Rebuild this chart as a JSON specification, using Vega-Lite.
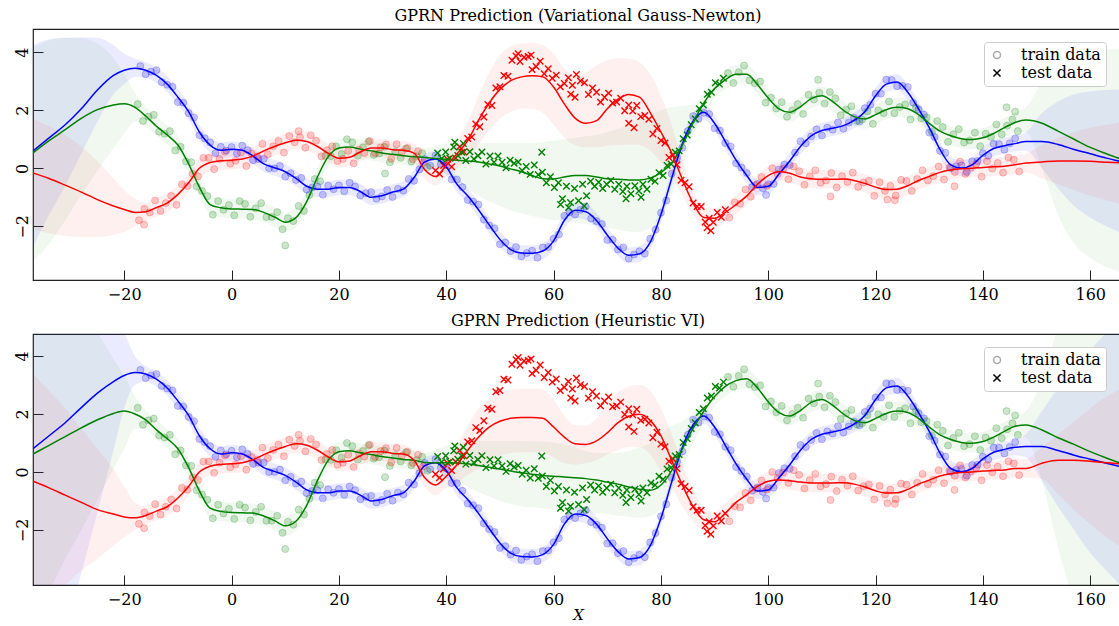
{
"$schema":"https://vega.github.io/schema/vega-lite/v6.json",
"background":"white",
"padding":{"left":13,"top":7,"right":0,"bottom":0},
"spacing":9,
"config":{
 "view":{"stroke":"#222222","strokeWidth":1.2},
 "title":{"font":"DejaVu Serif","fontSize":16,"fontWeight":"normal","color":"#000000","offset":5,"anchor":"middle"},
 "axis":{"grid":false,"domain":false,"ticks":true,"tickSize":-10,"tickColor":"#222222","tickWidth":1,"labelFont":"DejaVu Serif","labelFontSize":16,"labelColor":"#000000","titleFont":"DejaVu Serif","titleColor":"#000000"}
},
"resolve":{"scale":{"shape":"independent"},"legend":{"shape":"independent"}},
"datasets":{
"vgn":[
{"x":-37,"b":0.60,"bl":-2.7,"bh":4.25,"g":0.53,"gl":-3.2,"gh":4.15,"r":-0.16,"rl":-2.1,"rh":1.7},
{"x":-34,"b":1.05,"bl":-1.6,"bh":4.45,"g":0.95,"gl":-2.6,"gh":4.4,"r":-0.35,"rl":-2.25,"rh":1.45},
{"x":-31,"b":1.50,"bl":-0.6,"bh":4.5,"g":1.33,"gl":-1.8,"gh":4.5,"r":-0.58,"rl":-2.33,"rh":1.15},
{"x":-28,"b":2.05,"bl":0.5,"bh":4.52,"g":1.72,"gl":-0.9,"gh":4.48,"r":-0.82,"rl":-2.38,"rh":0.75},
{"x":-25,"b":2.70,"bl":1.6,"bh":4.5,"g":2.02,"gl":-0.1,"gh":4.3,"r":-1.08,"rl":-2.38,"rh":0.25},
{"x":-22,"b":3.20,"bl":2.55,"bh":4.25,"g":2.18,"gl":0.7,"gh":3.8,"r":-1.30,"rl":-2.3,"rh":-0.35},
{"x":-20,"b":3.38,"bl":2.9,"bh":3.95,"g":2.22,"gl":1.2,"gh":3.25,"r":-1.42,"rl":-2.2,"rh":-0.75},
{"x":-18,"b":3.45,"bl":3.15,"bh":3.78,"g":2.10,"gl":1.6,"gh":2.6,"r":-1.52,"rl":-2.0,"rh":-1.05},
{"x":-16,"b":3.38,"bl":3.11,"bh":3.65,"g":1.80,"gl":1.47,"gh":2.13,"r":-1.50,"rl":-1.82,"rh":-1.18},
{"x":-14,"b":3.20,"bl":2.93,"bh":3.47,"g":1.45,"gl":1.12,"gh":1.78,"r":-1.35,"rl":-1.67,"rh":-1.03},
{"x":-12,"b":2.90,"bl":2.63,"bh":3.17,"g":1.15,"gl":0.82,"gh":1.48,"r":-1.20,"rl":-1.52,"rh":-0.88},
{"x":-10,"b":2.45,"bl":2.18,"bh":2.72,"g":0.80,"gl":0.47,"gh":1.13,"r":-0.90,"rl":-1.22,"rh":-0.58},
{"x":-8,"b":1.95,"bl":1.68,"bh":2.22,"g":0.15,"gl":-0.18,"gh":0.48,"r":-0.50,"rl":-0.82,"rh":-0.18},
{"x":-6,"b":1.25,"bl":0.98,"bh":1.52,"g":-0.65,"gl":-0.98,"gh":-0.32,"r":0.00,"rl":-0.32,"rh":0.32},
{"x":-4,"b":0.80,"bl":0.53,"bh":1.07,"g":-1.25,"gl":-1.58,"gh":-0.92,"r":0.20,"rl":-0.12,"rh":0.52},
{"x":-2,"b":0.62,"bl":0.35,"bh":0.89,"g":-1.36,"gl":-1.69,"gh":-1.03,"r":0.26,"rl":-0.06,"rh":0.58},
{"x":0,"b":0.66,"bl":0.39,"bh":0.93,"g":-1.40,"gl":-1.73,"gh":-1.07,"r":0.28,"rl":-0.04,"rh":0.60},
{"x":2,"b":0.62,"bl":0.35,"bh":0.89,"g":-1.41,"gl":-1.74,"gh":-1.08,"r":0.32,"rl":0.00,"rh":0.64},
{"x":4,"b":0.42,"bl":0.15,"bh":0.69,"g":-1.42,"gl":-1.75,"gh":-1.09,"r":0.42,"rl":0.10,"rh":0.74},
{"x":6,"b":0.15,"bl":-0.12,"bh":0.42,"g":-1.52,"gl":-1.85,"gh":-1.19,"r":0.60,"rl":0.28,"rh":0.92},
{"x":8,"b":0.02,"bl":-0.25,"bh":0.29,"g":-1.68,"gl":-2.01,"gh":-1.35,"r":0.75,"rl":0.43,"rh":1.07},
{"x":10,"b":-0.12,"bl":-0.39,"bh":0.15,"g":-1.86,"gl":-2.19,"gh":-1.53,"r":0.88,"rl":0.56,"rh":1.20},
{"x":12,"b":-0.35,"bl":-0.62,"bh":-0.08,"g":-1.70,"gl":-2.03,"gh":-1.37,"r":0.97,"rl":0.65,"rh":1.29},
{"x":14,"b":-0.62,"bl":-0.89,"bh":-0.35,"g":-1.15,"gl":-1.48,"gh":-0.82,"r":0.92,"rl":0.60,"rh":1.24},
{"x":16,"b":-0.72,"bl":-0.99,"bh":-0.45,"g":-0.30,"gl":-0.63,"gh":0.03,"r":0.75,"rl":0.43,"rh":1.07},
{"x":18,"b":-0.72,"bl":-0.99,"bh":-0.45,"g":0.40,"gl":0.07,"gh":0.73,"r":0.52,"rl":0.20,"rh":0.84},
{"x":20,"b":-0.66,"bl":-0.93,"bh":-0.39,"g":0.70,"gl":0.37,"gh":1.03,"r":0.35,"rl":0.03,"rh":0.67},
{"x":22,"b":-0.66,"bl":-0.93,"bh":-0.39,"g":0.73,"gl":0.40,"gh":1.06,"r":0.38,"rl":0.06,"rh":0.70},
{"x":24,"b":-0.80,"bl":-1.07,"bh":-0.53,"g":0.66,"gl":0.33,"gh":0.99,"r":0.56,"rl":0.24,"rh":0.88},
{"x":26,"b":-1.00,"bl":-1.27,"bh":-0.73,"g":0.60,"gl":0.27,"gh":0.93,"r":0.70,"rl":0.38,"rh":1.02},
{"x":28,"b":-0.95,"bl":-1.22,"bh":-0.68,"g":0.53,"gl":0.20,"gh":0.86,"r":0.70,"rl":0.38,"rh":1.02},
{"x":30,"b":-0.82,"bl":-1.09,"bh":-0.55,"g":0.48,"gl":0.15,"gh":0.81,"r":0.64,"rl":0.32,"rh":0.96},
{"x":32,"b":-0.72,"bl":-0.99,"bh":-0.45,"g":0.43,"gl":0.10,"gh":0.76,"r":0.62,"rl":0.30,"rh":0.94},
{"x":34,"b":-0.32,"bl":-0.59,"bh":-0.05,"g":0.40,"gl":0.07,"gh":0.73,"r":0.52,"rl":0.20,"rh":0.84},
{"x":36,"b":0.22,"bl":-0.05,"bh":0.49,"g":0.37,"gl":0.04,"gh":0.70,"r":-0.05,"rl":-0.37,"rh":0.27},
{"x":38,"b":0.32,"bl":0.05,"bh":0.59,"g":0.34,"gl":0.0,"gh":0.75,"r":-0.28,"rl":-0.6,"rh":0.1},
{"x":40,"b":0.05,"bl":-0.22,"bh":0.32,"g":0.31,"gl":-0.2,"gh":0.85,"r":0.10,"rl":-0.3,"rh":0.5},
{"x":42,"b":-0.55,"bl":-0.82,"bh":-0.28,"g":0.28,"gl":-0.45,"gh":0.87,"r":0.50,"rl":0.0,"rh":1.0},
{"x":44,"b":-0.95,"bl":-1.22,"bh":-0.68,"g":0.25,"gl":-0.7,"gh":0.87,"r":0.95,"rl":0.3,"rh":1.6},
{"x":46,"b":-1.43,"bl":-1.70,"bh":-1.16,"g":0.22,"gl":-0.95,"gh":0.87,"r":1.65,"rl":0.8,"rh":2.5},
{"x":48,"b":-1.95,"bl":-2.22,"bh":-1.68,"g":0.15,"gl":-1.15,"gh":0.87,"r":2.25,"rl":1.3,"rh":3.3},
{"x":50,"b":-2.45,"bl":-2.72,"bh":-2.18,"g":0.08,"gl":-1.3,"gh":0.87,"r":2.72,"rl":1.7,"rh":3.9},
{"x":52,"b":-2.80,"bl":-3.07,"bh":-2.53,"g":-0.02,"gl":-1.45,"gh":0.87,"r":3.02,"rl":1.95,"rh":4.2},
{"x":54,"b":-2.92,"bl":-3.19,"bh":-2.65,"g":-0.12,"gl":-1.55,"gh":0.87,"r":3.15,"rl":2.05,"rh":4.3},
{"x":56,"b":-2.93,"bl":-3.20,"bh":-2.66,"g":-0.25,"gl":-1.65,"gh":0.87,"r":3.19,"rl":2.05,"rh":4.32},
{"x":58,"b":-2.85,"bl":-3.12,"bh":-2.58,"g":-0.36,"gl":-1.72,"gh":0.9,"r":3.15,"rl":1.9,"rh":4.25},
{"x":60,"b":-2.50,"bl":-2.77,"bh":-2.23,"g":-0.37,"gl":-1.78,"gh":0.95,"r":2.80,"rl":1.5,"rh":3.95},
{"x":62,"b":-1.80,"bl":-2.07,"bh":-1.53,"g":-0.30,"gl":-1.82,"gh":1.0,"r":2.22,"rl":1.05,"rh":3.45},
{"x":64,"b":-1.45,"bl":-1.72,"bh":-1.18,"g":-0.25,"gl":-1.87,"gh":1.05,"r":1.73,"rl":0.8,"rh":3.2},
{"x":66,"b":-1.50,"bl":-1.77,"bh":-1.23,"g":-0.25,"gl":-1.92,"gh":1.1,"r":1.55,"rl":0.72,"rh":3.3},
{"x":68,"b":-1.80,"bl":-2.07,"bh":-1.53,"g":-0.30,"gl":-1.97,"gh":1.15,"r":1.64,"rl":0.72,"rh":3.55},
{"x":70,"b":-2.30,"bl":-2.57,"bh":-2.03,"g":-0.36,"gl":-2.05,"gh":1.25,"r":2.05,"rl":0.78,"rh":3.72},
{"x":72,"b":-2.75,"bl":-3.02,"bh":-2.48,"g":-0.38,"gl":-2.12,"gh":1.35,"r":2.38,"rl":0.8,"rh":3.8},
{"x":74,"b":-3.00,"bl":-3.27,"bh":-2.73,"g":-0.40,"gl":-2.18,"gh":1.5,"r":2.54,"rl":0.82,"rh":3.78},
{"x":76,"b":-2.95,"bl":-3.22,"bh":-2.68,"g":-0.40,"gl":-2.2,"gh":1.65,"r":2.45,"rl":0.8,"rh":3.65},
{"x":78,"b":-2.55,"bl":-2.82,"bh":-2.28,"g":-0.34,"gl":-2.05,"gh":1.85,"r":1.92,"rl":0.6,"rh":3.25},
{"x":80,"b":-1.60,"bl":-1.87,"bh":-1.33,"g":-0.15,"gl":-1.65,"gh":2.0,"r":1.25,"rl":0.2,"rh":2.5},
{"x":82,"b":-0.35,"bl":-0.62,"bh":-0.08,"g":0.18,"gl":-0.95,"gh":2.1,"r":0.53,"rl":-0.3,"rh":1.5},
{"x":84,"b":0.85,"bl":0.58,"bh":1.12,"g":0.80,"gl":0.1,"gh":2.15,"r":-0.38,"rl":-0.95,"rh":0.3},
{"x":86,"b":1.62,"bl":1.35,"bh":1.89,"g":1.58,"gl":1.15,"gh":2.2,"r":-1.20,"rl":-1.6,"rh":-0.75},
{"x":88,"b":1.93,"bl":1.66,"bh":2.20,"g":2.25,"gl":1.85,"gh":2.6,"r":-1.70,"rl":-2.05,"rh":-1.33},
{"x":90,"b":1.55,"bl":1.28,"bh":1.82,"g":2.75,"gl":2.42,"gh":3.08,"r":-1.72,"rl":-2.05,"rh":-1.38},
{"x":92,"b":0.92,"bl":0.65,"bh":1.19,"g":3.05,"gl":2.72,"gh":3.38,"r":-1.52,"rl":-1.84,"rh":-1.20},
{"x":94,"b":0.28,"bl":0.01,"bh":0.55,"g":3.24,"gl":2.91,"gh":3.57,"r":-1.25,"rl":-1.57,"rh":-0.93},
{"x":96,"b":-0.25,"bl":-0.52,"bh":0.02,"g":3.24,"gl":2.91,"gh":3.57,"r":-0.95,"rl":-1.27,"rh":-0.63},
{"x":98,"b":-0.66,"bl":-0.93,"bh":-0.39,"g":2.88,"gl":2.55,"gh":3.21,"r":-0.55,"rl":-0.87,"rh":-0.23},
{"x":100,"b":-0.62,"bl":-0.89,"bh":-0.35,"g":2.42,"gl":2.09,"gh":2.75,"r":-0.25,"rl":-0.57,"rh":0.07},
{"x":102,"b":-0.20,"bl":-0.47,"bh":0.07,"g":2.05,"gl":1.72,"gh":2.38,"r":-0.12,"rl":-0.44,"rh":0.20},
{"x":104,"b":0.25,"bl":-0.02,"bh":0.52,"g":1.93,"gl":1.60,"gh":2.26,"r":-0.17,"rl":-0.49,"rh":0.15},
{"x":106,"b":0.75,"bl":0.48,"bh":1.02,"g":2.12,"gl":1.79,"gh":2.45,"r":-0.30,"rl":-0.62,"rh":0.02},
{"x":108,"b":1.12,"bl":0.85,"bh":1.39,"g":2.40,"gl":2.07,"gh":2.73,"r":-0.36,"rl":-0.68,"rh":-0.04},
{"x":110,"b":1.30,"bl":1.03,"bh":1.57,"g":2.50,"gl":2.17,"gh":2.83,"r":-0.38,"rl":-0.70,"rh":-0.06},
{"x":112,"b":1.38,"bl":1.11,"bh":1.65,"g":2.30,"gl":1.97,"gh":2.63,"r":-0.38,"rl":-0.70,"rh":-0.06},
{"x":114,"b":1.47,"bl":1.20,"bh":1.74,"g":2.00,"gl":1.67,"gh":2.33,"r":-0.37,"rl":-0.69,"rh":-0.05},
{"x":116,"b":1.65,"bl":1.38,"bh":1.92,"g":1.78,"gl":1.45,"gh":2.11,"r":-0.42,"rl":-0.74,"rh":-0.10},
{"x":118,"b":1.95,"bl":1.68,"bh":2.22,"g":1.70,"gl":1.37,"gh":2.03,"r":-0.52,"rl":-0.84,"rh":-0.20},
{"x":120,"b":2.50,"bl":2.23,"bh":2.77,"g":1.85,"gl":1.52,"gh":2.18,"r":-0.65,"rl":-0.97,"rh":-0.33},
{"x":122,"b":2.90,"bl":2.63,"bh":3.17,"g":2.02,"gl":1.69,"gh":2.35,"r":-0.73,"rl":-1.05,"rh":-0.41},
{"x":124,"b":2.97,"bl":2.70,"bh":3.24,"g":2.10,"gl":1.77,"gh":2.43,"r":-0.72,"rl":-1.04,"rh":-0.40},
{"x":126,"b":2.62,"bl":2.35,"bh":2.89,"g":2.05,"gl":1.72,"gh":2.38,"r":-0.60,"rl":-0.92,"rh":-0.28},
{"x":128,"b":2.05,"bl":1.78,"bh":2.32,"g":1.85,"gl":1.52,"gh":2.18,"r":-0.42,"rl":-0.74,"rh":-0.10},
{"x":130,"b":1.40,"bl":1.13,"bh":1.67,"g":1.55,"gl":1.22,"gh":1.88,"r":-0.28,"rl":-0.60,"rh":0.04},
{"x":132,"b":0.65,"bl":0.38,"bh":0.92,"g":1.28,"gl":0.95,"gh":1.61,"r":-0.14,"rl":-0.46,"rh":0.18},
{"x":134,"b":0.12,"bl":-0.15,"bh":0.39,"g":1.12,"gl":0.79,"gh":1.45,"r":-0.06,"rl":-0.38,"rh":0.26},
{"x":136,"b":0.01,"bl":-0.26,"bh":0.28,"g":1.02,"gl":0.69,"gh":1.35,"r":-0.02,"rl":-0.34,"rh":0.30},
{"x":138,"b":0.12,"bl":-0.15,"bh":0.39,"g":0.99,"gl":0.66,"gh":1.32,"r":0.00,"rl":-0.32,"rh":0.32},
{"x":140,"b":0.45,"bl":0.18,"bh":0.72,"g":1.05,"gl":0.72,"gh":1.38,"r":0.03,"rl":-0.29,"rh":0.35},
{"x":142,"b":0.68,"bl":0.41,"bh":0.95,"g":1.20,"gl":0.87,"gh":1.53,"r":0.05,"rl":-0.27,"rh":0.37},
{"x":144,"b":0.78,"bl":0.51,"bh":1.05,"g":1.40,"gl":1.07,"gh":1.73,"r":0.07,"rl":-0.25,"rh":0.39},
{"x":146,"b":0.85,"bl":0.58,"bh":1.12,"g":1.58,"gl":1.25,"gh":1.91,"r":0.12,"rl":-0.20,"rh":0.44},
{"x":148,"b":0.92,"bl":0.6,"bh":1.25,"g":1.66,"gl":1.25,"gh":2.1,"r":0.18,"rl":-0.15,"rh":0.5},
{"x":151,"b":0.92,"bl":0.0,"bh":1.9,"g":1.55,"gl":0.0,"gh":3.0,"r":0.22,"rl":-0.35,"rh":0.8},
{"x":154,"b":0.82,"bl":-0.7,"bh":2.3,"g":1.28,"gl":-1.6,"gh":3.7,"r":0.25,"rl":-0.55,"rh":1.05},
{"x":157,"b":0.65,"bl":-1.3,"bh":2.55,"g":1.00,"gl":-2.6,"gh":3.95,"r":0.25,"rl":-0.75,"rh":1.25},
{"x":160,"b":0.50,"bl":-1.7,"bh":2.65,"g":0.72,"gl":-3.1,"gh":4.05,"r":0.24,"rl":-0.95,"rh":1.4},
{"x":163,"b":0.35,"bl":-2.0,"bh":2.7,"g":0.50,"gl":-3.4,"gh":4.1,"r":0.21,"rl":-1.1,"rh":1.5},
{"x":166,"b":0.22,"bl":-2.25,"bh":2.72,"g":0.30,"gl":-3.6,"gh":4.1,"r":0.18,"rl":-1.25,"rh":1.6}
],
"hvi":[
{"x":-37,"b":0.80,"bl":-9.8,"bh":8,"g":0.62,"gl":-5.1,"gh":9,"r":-0.32,"rl":-5.0,"rh":3.4},
{"x":-34,"b":1.25,"bl":-7.7,"bh":8,"g":0.92,"gl":-4.1,"gh":8,"r":-0.55,"rl":-4.4,"rh":2.8},
{"x":-31,"b":1.70,"bl":-5.6,"bh":7.5,"g":1.22,"gl":-3.0,"gh":7,"r":-0.80,"rl":-3.9,"rh":2.2},
{"x":-28,"b":2.22,"bl":-3.5,"bh":7.0,"g":1.52,"gl":-2.0,"gh":6.0,"r":-1.05,"rl":-3.4,"rh":1.5},
{"x":-25,"b":2.72,"bl":-1.4,"bh":6.3,"g":1.80,"gl":-0.95,"gh":4.85,"r":-1.30,"rl":-3.0,"rh":0.8},
{"x":-22,"b":3.12,"bl":0.75,"bh":5.5,"g":2.02,"gl":0.1,"gh":3.9,"r":-1.45,"rl":-2.55,"rh":0.1},
{"x":-20,"b":3.33,"bl":2.2,"bh":4.8,"g":2.10,"gl":0.8,"gh":3.3,"r":-1.55,"rl":-2.25,"rh":-0.5},
{"x":-18,"b":3.43,"bl":3.0,"bh":4.0,"g":2.00,"gl":1.5,"gh":2.6,"r":-1.58,"rl":-2.0,"rh":-1.05},
{"x":-16,"b":3.38,"bl":3.11,"bh":3.65,"g":1.80,"gl":1.47,"gh":2.13,"r":-1.50,"rl":-1.82,"rh":-1.18},
{"x":-14,"b":3.20,"bl":2.93,"bh":3.47,"g":1.45,"gl":1.12,"gh":1.78,"r":-1.35,"rl":-1.67,"rh":-1.03},
{"x":-12,"b":2.90,"bl":2.63,"bh":3.17,"g":1.15,"gl":0.82,"gh":1.48,"r":-1.20,"rl":-1.52,"rh":-0.88},
{"x":-10,"b":2.45,"bl":2.18,"bh":2.72,"g":0.80,"gl":0.47,"gh":1.13,"r":-0.90,"rl":-1.22,"rh":-0.58},
{"x":-8,"b":1.95,"bl":1.68,"bh":2.22,"g":0.15,"gl":-0.18,"gh":0.48,"r":-0.50,"rl":-0.82,"rh":-0.18},
{"x":-6,"b":1.25,"bl":0.98,"bh":1.52,"g":-0.65,"gl":-0.98,"gh":-0.32,"r":0.00,"rl":-0.32,"rh":0.32},
{"x":-4,"b":0.80,"bl":0.53,"bh":1.07,"g":-1.25,"gl":-1.58,"gh":-0.92,"r":0.20,"rl":-0.12,"rh":0.52},
{"x":-2,"b":0.62,"bl":0.35,"bh":0.89,"g":-1.36,"gl":-1.69,"gh":-1.03,"r":0.26,"rl":-0.06,"rh":0.58},
{"x":0,"b":0.66,"bl":0.39,"bh":0.93,"g":-1.40,"gl":-1.73,"gh":-1.07,"r":0.28,"rl":-0.04,"rh":0.60},
{"x":2,"b":0.62,"bl":0.35,"bh":0.89,"g":-1.41,"gl":-1.74,"gh":-1.08,"r":0.32,"rl":0.00,"rh":0.64},
{"x":4,"b":0.42,"bl":0.15,"bh":0.69,"g":-1.42,"gl":-1.75,"gh":-1.09,"r":0.42,"rl":0.10,"rh":0.74},
{"x":6,"b":0.15,"bl":-0.12,"bh":0.42,"g":-1.52,"gl":-1.85,"gh":-1.19,"r":0.60,"rl":0.28,"rh":0.92},
{"x":8,"b":0.02,"bl":-0.25,"bh":0.29,"g":-1.68,"gl":-2.01,"gh":-1.35,"r":0.75,"rl":0.43,"rh":1.07},
{"x":10,"b":-0.12,"bl":-0.39,"bh":0.15,"g":-1.86,"gl":-2.19,"gh":-1.53,"r":0.88,"rl":0.56,"rh":1.20},
{"x":12,"b":-0.35,"bl":-0.62,"bh":-0.08,"g":-1.70,"gl":-2.03,"gh":-1.37,"r":0.97,"rl":0.65,"rh":1.29},
{"x":14,"b":-0.62,"bl":-0.89,"bh":-0.35,"g":-1.15,"gl":-1.48,"gh":-0.82,"r":0.92,"rl":0.60,"rh":1.24},
{"x":16,"b":-0.72,"bl":-0.99,"bh":-0.45,"g":-0.30,"gl":-0.63,"gh":0.03,"r":0.75,"rl":0.43,"rh":1.07},
{"x":18,"b":-0.72,"bl":-0.99,"bh":-0.45,"g":0.40,"gl":0.07,"gh":0.73,"r":0.52,"rl":0.20,"rh":0.84},
{"x":20,"b":-0.66,"bl":-0.93,"bh":-0.39,"g":0.70,"gl":0.37,"gh":1.03,"r":0.35,"rl":0.03,"rh":0.67},
{"x":22,"b":-0.66,"bl":-0.93,"bh":-0.39,"g":0.73,"gl":0.40,"gh":1.06,"r":0.38,"rl":0.06,"rh":0.70},
{"x":24,"b":-0.80,"bl":-1.07,"bh":-0.53,"g":0.66,"gl":0.33,"gh":0.99,"r":0.56,"rl":0.24,"rh":0.88},
{"x":26,"b":-1.00,"bl":-1.27,"bh":-0.73,"g":0.60,"gl":0.27,"gh":0.93,"r":0.70,"rl":0.38,"rh":1.02},
{"x":28,"b":-0.95,"bl":-1.22,"bh":-0.68,"g":0.53,"gl":0.20,"gh":0.86,"r":0.70,"rl":0.38,"rh":1.02},
{"x":30,"b":-0.82,"bl":-1.09,"bh":-0.55,"g":0.48,"gl":0.15,"gh":0.81,"r":0.64,"rl":0.32,"rh":0.96},
{"x":32,"b":-0.72,"bl":-0.99,"bh":-0.45,"g":0.43,"gl":0.10,"gh":0.76,"r":0.62,"rl":0.30,"rh":0.94},
{"x":34,"b":-0.32,"bl":-0.59,"bh":-0.05,"g":0.40,"gl":0.07,"gh":0.73,"r":0.40,"rl":0.08,"rh":0.72},
{"x":36,"b":0.22,"bl":-0.05,"bh":0.49,"g":0.33,"gl":0.0,"gh":0.66,"r":-0.20,"rl":-0.52,"rh":0.12},
{"x":38,"b":0.32,"bl":0.05,"bh":0.59,"g":0.32,"gl":-0.05,"gh":0.75,"r":-0.45,"rl":-0.8,"rh":-0.1},
{"x":40,"b":0.05,"bl":-0.22,"bh":0.32,"g":0.32,"gl":-0.2,"gh":0.9,"r":-0.15,"rl":-0.55,"rh":0.3},
{"x":42,"b":-0.55,"bl":-0.82,"bh":-0.28,"g":0.31,"gl":-0.35,"gh":1.0,"r":0.25,"rl":-0.4,"rh":0.9},
{"x":44,"b":-0.95,"bl":-1.22,"bh":-0.68,"g":0.28,"gl":-0.5,"gh":1.05,"r":0.75,"rl":-0.1,"rh":1.6},
{"x":46,"b":-1.43,"bl":-1.70,"bh":-1.16,"g":0.22,"gl":-0.7,"gh":1.08,"r":1.20,"rl":0.1,"rh":2.2},
{"x":48,"b":-1.95,"bl":-2.22,"bh":-1.68,"g":0.16,"gl":-0.85,"gh":1.08,"r":1.55,"rl":0.3,"rh":2.5},
{"x":50,"b":-2.45,"bl":-2.72,"bh":-2.18,"g":0.10,"gl":-1.0,"gh":1.08,"r":1.75,"rl":0.55,"rh":2.75},
{"x":52,"b":-2.80,"bl":-3.07,"bh":-2.53,"g":0.03,"gl":-1.1,"gh":1.08,"r":1.85,"rl":0.65,"rh":2.85},
{"x":54,"b":-2.92,"bl":-3.19,"bh":-2.65,"g":-0.03,"gl":-1.18,"gh":1.07,"r":1.88,"rl":0.68,"rh":2.88},
{"x":56,"b":-2.93,"bl":-3.20,"bh":-2.66,"g":-0.08,"gl":-1.22,"gh":1.06,"r":1.88,"rl":0.68,"rh":2.88},
{"x":58,"b":-2.85,"bl":-3.12,"bh":-2.58,"g":-0.12,"gl":-1.26,"gh":1.05,"r":1.85,"rl":0.68,"rh":2.85},
{"x":60,"b":-2.50,"bl":-2.77,"bh":-2.23,"g":-0.15,"gl":-1.3,"gh":1.02,"r":1.55,"rl":0.5,"rh":2.5},
{"x":62,"b":-1.80,"bl":-2.07,"bh":-1.53,"g":-0.17,"gl":-1.35,"gh":0.95,"r":1.20,"rl":0.3,"rh":1.95},
{"x":64,"b":-1.45,"bl":-1.72,"bh":-1.18,"g":-0.20,"gl":-1.38,"gh":0.85,"r":0.97,"rl":0.25,"rh":1.62},
{"x":66,"b":-1.50,"bl":-1.77,"bh":-1.23,"g":-0.23,"gl":-1.4,"gh":0.72,"r":0.95,"rl":0.3,"rh":1.6},
{"x":68,"b":-1.80,"bl":-2.07,"bh":-1.53,"g":-0.28,"gl":-1.42,"gh":0.66,"r":1.07,"rl":0.4,"rh":1.85},
{"x":70,"b":-2.30,"bl":-2.57,"bh":-2.03,"g":-0.35,"gl":-1.45,"gh":0.65,"r":1.35,"rl":0.6,"rh":2.35},
{"x":72,"b":-2.75,"bl":-3.02,"bh":-2.48,"g":-0.42,"gl":-1.5,"gh":0.66,"r":1.70,"rl":0.75,"rh":2.75},
{"x":74,"b":-3.00,"bl":-3.27,"bh":-2.73,"g":-0.52,"gl":-1.55,"gh":0.72,"r":1.92,"rl":0.85,"rh":2.95},
{"x":76,"b":-2.95,"bl":-3.22,"bh":-2.68,"g":-0.60,"gl":-1.58,"gh":0.85,"r":1.99,"rl":0.85,"rh":3.0},
{"x":78,"b":-2.55,"bl":-2.82,"bh":-2.28,"g":-0.63,"gl":-1.52,"gh":1.0,"r":1.78,"rl":0.6,"rh":2.8},
{"x":80,"b":-1.60,"bl":-1.87,"bh":-1.33,"g":-0.45,"gl":-1.3,"gh":1.3,"r":1.25,"rl":0.05,"rh":2.2},
{"x":82,"b":-0.35,"bl":-0.62,"bh":-0.08,"g":0.05,"gl":-0.7,"gh":1.6,"r":0.40,"rl":-0.5,"rh":1.3},
{"x":84,"b":0.85,"bl":0.58,"bh":1.12,"g":0.80,"gl":0.1,"gh":1.75,"r":-0.45,"rl":-1.2,"rh":0.3},
{"x":86,"b":1.62,"bl":1.35,"bh":1.89,"g":1.50,"gl":1.0,"gh":2.05,"r":-1.20,"rl":-1.7,"rh":-0.6},
{"x":88,"b":1.93,"bl":1.66,"bh":2.20,"g":2.10,"gl":1.7,"gh":2.5,"r":-1.65,"rl":-2.0,"rh":-1.25},
{"x":90,"b":1.55,"bl":1.28,"bh":1.82,"g":2.60,"gl":2.25,"gh":2.95,"r":-1.72,"rl":-2.05,"rh":-1.38},
{"x":92,"b":0.92,"bl":0.65,"bh":1.19,"g":2.95,"gl":2.62,"gh":3.28,"r":-1.42,"rl":-1.74,"rh":-1.10},
{"x":94,"b":0.28,"bl":0.01,"bh":0.55,"g":3.15,"gl":2.82,"gh":3.48,"r":-1.05,"rl":-1.37,"rh":-0.73},
{"x":96,"b":-0.25,"bl":-0.52,"bh":0.02,"g":3.22,"gl":2.89,"gh":3.55,"r":-0.78,"rl":-1.10,"rh":-0.46},
{"x":98,"b":-0.66,"bl":-0.93,"bh":-0.39,"g":2.90,"gl":2.57,"gh":3.23,"r":-0.50,"rl":-0.82,"rh":-0.18},
{"x":100,"b":-0.62,"bl":-0.89,"bh":-0.35,"g":2.42,"gl":2.09,"gh":2.75,"r":-0.32,"rl":-0.64,"rh":0.0},
{"x":102,"b":-0.20,"bl":-0.47,"bh":0.07,"g":2.05,"gl":1.72,"gh":2.38,"r":-0.28,"rl":-0.60,"rh":0.04},
{"x":104,"b":0.25,"bl":-0.02,"bh":0.52,"g":1.93,"gl":1.60,"gh":2.26,"r":-0.30,"rl":-0.62,"rh":0.02},
{"x":106,"b":0.75,"bl":0.48,"bh":1.02,"g":2.12,"gl":1.79,"gh":2.45,"r":-0.35,"rl":-0.67,"rh":-0.03},
{"x":108,"b":1.12,"bl":0.85,"bh":1.39,"g":2.40,"gl":2.07,"gh":2.73,"r":-0.38,"rl":-0.70,"rh":-0.06},
{"x":110,"b":1.30,"bl":1.03,"bh":1.57,"g":2.50,"gl":2.17,"gh":2.83,"r":-0.38,"rl":-0.70,"rh":-0.06},
{"x":112,"b":1.38,"bl":1.11,"bh":1.65,"g":2.30,"gl":1.97,"gh":2.63,"r":-0.38,"rl":-0.70,"rh":-0.06},
{"x":114,"b":1.47,"bl":1.20,"bh":1.74,"g":2.00,"gl":1.67,"gh":2.33,"r":-0.37,"rl":-0.69,"rh":-0.05},
{"x":116,"b":1.65,"bl":1.38,"bh":1.92,"g":1.78,"gl":1.45,"gh":2.11,"r":-0.42,"rl":-0.74,"rh":-0.10},
{"x":118,"b":1.95,"bl":1.68,"bh":2.22,"g":1.70,"gl":1.37,"gh":2.03,"r":-0.52,"rl":-0.84,"rh":-0.20},
{"x":120,"b":2.50,"bl":2.23,"bh":2.77,"g":1.85,"gl":1.52,"gh":2.18,"r":-0.65,"rl":-0.97,"rh":-0.33},
{"x":122,"b":2.90,"bl":2.63,"bh":3.17,"g":2.02,"gl":1.69,"gh":2.35,"r":-0.73,"rl":-1.05,"rh":-0.41},
{"x":124,"b":2.97,"bl":2.70,"bh":3.24,"g":2.10,"gl":1.77,"gh":2.43,"r":-0.72,"rl":-1.04,"rh":-0.40},
{"x":126,"b":2.62,"bl":2.35,"bh":2.89,"g":2.05,"gl":1.72,"gh":2.38,"r":-0.60,"rl":-0.92,"rh":-0.28},
{"x":128,"b":2.05,"bl":1.78,"bh":2.32,"g":1.85,"gl":1.52,"gh":2.18,"r":-0.42,"rl":-0.74,"rh":-0.10},
{"x":130,"b":1.40,"bl":1.13,"bh":1.67,"g":1.55,"gl":1.22,"gh":1.88,"r":-0.28,"rl":-0.60,"rh":0.04},
{"x":132,"b":0.65,"bl":0.38,"bh":0.92,"g":1.28,"gl":0.95,"gh":1.61,"r":-0.14,"rl":-0.46,"rh":0.18},
{"x":134,"b":0.12,"bl":-0.15,"bh":0.39,"g":1.12,"gl":0.79,"gh":1.45,"r":-0.06,"rl":-0.38,"rh":0.26},
{"x":136,"b":0.01,"bl":-0.26,"bh":0.28,"g":1.02,"gl":0.69,"gh":1.35,"r":-0.02,"rl":-0.34,"rh":0.30},
{"x":138,"b":0.12,"bl":-0.15,"bh":0.39,"g":0.99,"gl":0.66,"gh":1.32,"r":0.00,"rl":-0.32,"rh":0.32},
{"x":140,"b":0.45,"bl":0.18,"bh":0.72,"g":1.05,"gl":0.72,"gh":1.38,"r":0.03,"rl":-0.29,"rh":0.35},
{"x":142,"b":0.68,"bl":0.41,"bh":0.95,"g":1.20,"gl":0.87,"gh":1.53,"r":0.05,"rl":-0.27,"rh":0.37},
{"x":144,"b":0.78,"bl":0.51,"bh":1.05,"g":1.40,"gl":1.07,"gh":1.73,"r":0.07,"rl":-0.25,"rh":0.39},
{"x":146,"b":0.85,"bl":0.58,"bh":1.12,"g":1.58,"gl":1.25,"gh":1.91,"r":0.12,"rl":-0.20,"rh":0.44},
{"x":148,"b":0.88,"bl":0.5,"bh":1.3,"g":1.62,"gl":1.2,"gh":2.1,"r":0.12,"rl":-0.2,"rh":0.45},
{"x":151,"b":0.88,"bl":-0.3,"bh":2.1,"g":1.45,"gl":-0.3,"gh":3.2,"r":0.30,"rl":-0.25,"rh":0.85},
{"x":154,"b":0.74,"bl":-1.2,"bh":2.9,"g":1.18,"gl":-2.6,"gh":5.0,"r":0.40,"rl":-0.75,"rh":1.3},
{"x":157,"b":0.58,"bl":-2.0,"bh":3.5,"g":0.95,"gl":-4.5,"gh":6.5,"r":0.40,"rl":-1.3,"rh":1.75},
{"x":160,"b":0.44,"bl":-2.8,"bh":4.2,"g":0.70,"gl":-6,"gh":7.5,"r":0.37,"rl":-1.8,"rh":2.2},
{"x":163,"b":0.30,"bl":-3.4,"bh":4.8,"g":0.48,"gl":-7,"gh":8.5,"r":0.32,"rl":-2.25,"rh":2.6},
{"x":166,"b":0.17,"bl":-4.0,"bh":5.3,"g":0.28,"gl":-8,"gh":9.5,"r":0.27,"rl":-2.6,"rh":2.9}
],
"train":[
{"s":"b","x":-17,"y":3.52},{"s":"b","x":-16,"y":3.24},{"s":"b","x":-15,"y":3.33},{"s":"b","x":-14,"y":3.38},{"s":"b","x":-13,"y":2.97},{"s":"b","x":-12,"y":2.88},{"s":"b","x":-11,"y":2.81},{"s":"b","x":-10,"y":2.28},{"s":"b","x":-9,"y":2.26},{"s":"b","x":-8,"y":1.90},{"s":"b","x":-7,"y":1.75},{"s":"b","x":-6,"y":1.14},{"s":"b","x":-5,"y":1.03},{"s":"b","x":-4,"y":0.89},{"s":"b","x":-3,"y":0.52},{"s":"b","x":-2,"y":0.74},{"s":"b","x":-1,"y":0.61},{"s":"b","x":0,"y":0.73},{"s":"b","x":1,"y":0.51},{"s":"b","x":2,"y":0.78},{"s":"b","x":3,"y":0.62},{"s":"b","x":4,"y":0.28},{"s":"b","x":5,"y":0.32},{"s":"b","x":6,"y":0.33},{"s":"b","x":7,"y":0.00},{"s":"b","x":8,"y":0.00},{"s":"b","x":9,"y":0.08},{"s":"b","x":10,"y":-0.29},{"s":"b","x":11,"y":-0.17},{"s":"b","x":12,"y":-0.40},{"s":"b","x":13,"y":-0.33},{"s":"b","x":14,"y":-0.73},{"s":"b","x":15,"y":-0.66},{"s":"b","x":16,"y":-0.63},{"s":"b","x":17,"y":-0.91},{"s":"b","x":18,"y":-0.60},{"s":"b","x":19,"y":-0.72},{"s":"b","x":20,"y":-0.59},{"s":"b","x":21,"y":-0.79},{"s":"b","x":22,"y":-0.50},{"s":"b","x":23,"y":-0.63},{"s":"b","x":24,"y":-0.94},{"s":"b","x":25,"y":-0.86},{"s":"b","x":26,"y":-0.82},{"s":"b","x":27,"y":-1.05},{"s":"b","x":28,"y":-0.97},{"s":"b","x":29,"y":-0.75},{"s":"b","x":30,"y":-0.99},{"s":"b","x":31,"y":-0.71},{"s":"b","x":32,"y":-0.77},{"s":"b","x":33,"y":-0.37},{"s":"b","x":34,"y":-0.43},{"s":"b","x":35,"y":-0.04},{"s":"b","x":36,"y":0.31},{"s":"b","x":37,"y":0.09},{"s":"b","x":38,"y":0.44},{"s":"b","x":39,"y":0.15},{"s":"b","x":40,"y":0.12},{"s":"b","x":41,"y":-0.38},{"s":"b","x":42,"y":-0.39},{"s":"b","x":43,"y":-0.65},{"s":"b","x":44,"y":-1.09},{"s":"b","x":45,"y":-1.15},{"s":"b","x":46,"y":-1.25},{"s":"b","x":47,"y":-1.77},{"s":"b","x":48,"y":-1.97},{"s":"b","x":49,"y":-2.07},{"s":"b","x":50,"y":-2.62},{"s":"b","x":51,"y":-2.56},{"s":"b","x":52,"y":-2.85},{"s":"b","x":53,"y":-2.71},{"s":"b","x":54,"y":-3.03},{"s":"b","x":55,"y":-2.92},{"s":"b","x":56,"y":-2.84},{"s":"b","x":57,"y":-3.08},{"s":"b","x":58,"y":-2.73},{"s":"b","x":59,"y":-2.71},{"s":"b","x":60,"y":-2.43},{"s":"b","x":61,"y":-2.28},{"s":"b","x":62,"y":-1.64},{"s":"b","x":63,"y":-1.52},{"s":"b","x":64,"y":-1.59},{"s":"b","x":65,"y":-1.43},{"s":"b","x":66,"y":-1.32},{"s":"b","x":67,"y":-1.73},{"s":"b","x":68,"y":-1.82},{"s":"b","x":69,"y":-1.92},{"s":"b","x":70,"y":-2.47},{"s":"b","x":71,"y":-2.46},{"s":"b","x":72,"y":-2.80},{"s":"b","x":73,"y":-2.73},{"s":"b","x":74,"y":-3.11},{"s":"b","x":75,"y":-2.97},{"s":"b","x":76,"y":-2.86},{"s":"b","x":77,"y":-2.94},{"s":"b","x":78,"y":-2.43},{"s":"b","x":79,"y":-2.11},{"s":"b","x":80,"y":-1.53},{"s":"b","x":81,"y":-1.11},{"s":"b","x":82,"y":-0.19},{"s":"b","x":83,"y":0.35},{"s":"b","x":84,"y":0.71},{"s":"b","x":85,"y":1.28},{"s":"b","x":86,"y":1.80},{"s":"b","x":87,"y":1.70},{"s":"b","x":88,"y":1.91},{"s":"b","x":89,"y":1.87},{"s":"b","x":90,"y":1.38},{"s":"b","x":91,"y":1.30},{"s":"b","x":92,"y":0.87},{"s":"b","x":93,"y":0.75},{"s":"b","x":94,"y":0.17},{"s":"b","x":95,"y":0.03},{"s":"b","x":96,"y":-0.16},{"s":"b","x":97,"y":-0.65},{"s":"b","x":98,"y":-0.54},{"s":"b","x":99,"y":-0.69},{"s":"b","x":100,"y":-0.55},{"s":"b","x":101,"y":-0.54},{"s":"b","x":102,"y":-0.04},{"s":"b","x":103,"y":0.13},{"s":"b","x":104,"y":0.11},{"s":"b","x":105,"y":0.54},{"s":"b","x":106,"y":0.93},{"s":"b","x":107,"y":0.86},{"s":"b","x":108,"y":1.10},{"s":"b","x":109,"y":1.34},{"s":"b","x":110,"y":1.13},{"s":"b","x":111,"y":1.40},{"s":"b","x":112,"y":1.33},{"s":"b","x":113,"y":1.58},{"s":"b","x":114,"y":1.36},{"s":"b","x":115,"y":1.57},{"s":"b","x":116,"y":1.74},{"s":"b","x":117,"y":1.61},{"s":"b","x":118,"y":2.07},{"s":"b","x":119,"y":2.19},{"s":"b","x":120,"y":2.57},{"s":"b","x":121,"y":2.57},{"s":"b","x":122,"y":3.06},{"s":"b","x":123,"y":3.04},{"s":"b","x":124,"y":2.83},{"s":"b","x":125,"y":2.84},{"s":"b","x":126,"y":2.80},{"s":"b","x":127,"y":2.26},{"s":"b","x":128,"y":2.03},{"s":"b","x":129,"y":1.85},{"s":"b","x":130,"y":1.23},{"s":"b","x":131,"y":1.08},{"s":"b","x":132,"y":0.60},{"s":"b","x":133,"y":0.53},{"s":"b","x":134,"y":0.01},{"s":"b","x":135,"y":0.07},{"s":"b","x":136,"y":0.10},{"s":"b","x":137,"y":-0.13},{"s":"b","x":138,"y":0.24},{"s":"b","x":139,"y":0.25},{"s":"b","x":140,"y":0.52},{"s":"b","x":141,"y":0.43},{"s":"b","x":142,"y":0.84},{"s":"b","x":143,"y":0.83},{"s":"b","x":144,"y":0.64},{"s":"b","x":145,"y":0.86},{"s":"b","x":146,"y":1.03},{"s":"b","x":99.6,"y":-0.92},
{"s":"g","x":-17.5,"y":2.21},{"s":"g","x":-16.5,"y":1.63},{"s":"g","x":-15.5,"y":1.78},{"s":"g","x":-14.5,"y":1.84},{"s":"g","x":-13.5,"y":1.26},{"s":"g","x":-12.5,"y":1.19},{"s":"g","x":-11.5,"y":1.28},{"s":"g","x":-10.5,"y":0.61},{"s":"g","x":-9.5,"y":0.74},{"s":"g","x":-8.5,"y":0.23},{"s":"g","x":-7.5,"y":0.21},{"s":"g","x":-6.5,"y":-0.63},{"s":"g","x":-5.5,"y":-0.78},{"s":"g","x":-4.5,"y":-0.96},{"s":"g","x":-3.5,"y":-1.60},{"s":"g","x":-2.5,"y":-1.13},{"s":"g","x":-1.5,"y":-1.43},{"s":"g","x":-0.5,"y":-1.27},{"s":"g","x":0.5,"y":-1.62},{"s":"g","x":1.5,"y":-1.13},{"s":"g","x":2.5,"y":-1.23},{"s":"g","x":3.5,"y":-1.67},{"s":"g","x":4.5,"y":-1.38},{"s":"g","x":5.5,"y":-1.20},{"s":"g","x":6.5,"y":-1.68},{"s":"g","x":7.5,"y":-1.68},{"s":"g","x":8.5,"y":-1.51},{"s":"g","x":9.5,"y":-2.10},{"s":"g","x":10.5,"y":-1.72},{"s":"g","x":11.5,"y":-1.82},{"s":"g","x":12.5,"y":-1.30},{"s":"g","x":13.5,"y":-1.47},{"s":"g","x":14.5,"y":-0.92},{"s":"g","x":15.5,"y":-0.37},{"s":"g","x":16.5,"y":-0.45},{"s":"g","x":17.5,"y":0.43},{"s":"g","x":18.5,"y":0.42},{"s":"g","x":19.5,"y":0.75},{"s":"g","x":20.5,"y":0.49},{"s":"g","x":21.5,"y":1.00},{"s":"g","x":22.5,"y":0.89},{"s":"g","x":23.5,"y":0.43},{"s":"g","x":24.5,"y":0.72},{"s":"g","x":25.5,"y":0.92},{"s":"g","x":26.5,"y":0.46},{"s":"g","x":27.5,"y":0.51},{"s":"g","x":28.5,"y":0.74},{"s":"g","x":29.5,"y":0.21},{"s":"g","x":30.5,"y":0.57},{"s":"g","x":31.5,"y":0.36},{"s":"g","x":32.5,"y":0.68},{"s":"g","x":33.5,"y":0.23},{"s":"g","x":34.5,"y":0.41},{"s":"g","x":35.5,"y":0.52},{"s":"g","x":36.5,"y":0.04},{"s":"g","x":10,"y":-2.66},{"s":"g","x":28.6,"y":-0.18},
{"s":"g","x":92.5,"y":3.28},{"s":"g","x":93.5,"y":2.94},{"s":"g","x":94.5,"y":3.31},{"s":"g","x":95.5,"y":3.54},{"s":"g","x":96.5,"y":3.03},{"s":"g","x":97.5,"y":2.93},{"s":"g","x":98.5,"y":2.99},{"s":"g","x":99.5,"y":2.26},{"s":"g","x":100.5,"y":2.43},{"s":"g","x":101.5,"y":2.06},{"s":"g","x":102.5,"y":2.28},{"s":"g","x":103.5,"y":1.78},{"s":"g","x":104.5,"y":2.00},{"s":"g","x":105.5,"y":2.21},{"s":"g","x":106.5,"y":1.87},{"s":"g","x":107.5,"y":2.53},{"s":"g","x":108.5,"y":2.37},{"s":"g","x":109.5,"y":2.60},{"s":"g","x":110.5,"y":2.23},{"s":"g","x":111.5,"y":2.63},{"s":"g","x":112.5,"y":2.41},{"s":"g","x":113.5,"y":1.83},{"s":"g","x":114.5,"y":2.02},{"s":"g","x":115.5,"y":2.14},{"s":"g","x":116.5,"y":1.64},{"s":"g","x":117.5,"y":1.68},{"s":"g","x":118.5,"y":1.96},{"s":"g","x":119.5,"y":1.53},{"s":"g","x":120.5,"y":1.99},{"s":"g","x":121.5,"y":1.90},{"s":"g","x":122.5,"y":2.30},{"s":"g","x":123.5,"y":1.90},{"s":"g","x":124.5,"y":2.11},{"s":"g","x":125.5,"y":2.20},{"s":"g","x":126.5,"y":1.68},{"s":"g","x":127.5,"y":2.10},{"s":"g","x":128.5,"y":1.72},{"s":"g","x":129.5,"y":1.75},{"s":"g","x":130.5,"y":1.26},{"s":"g","x":131.5,"y":1.63},{"s":"g","x":132.5,"y":1.42},{"s":"g","x":133.5,"y":0.91},{"s":"g","x":134.5,"y":1.17},{"s":"g","x":135.5,"y":1.35},{"s":"g","x":136.5,"y":0.89},{"s":"g","x":137.5,"y":0.96},{"s":"g","x":138.5,"y":1.23},{"s":"g","x":139.5,"y":0.76},{"s":"g","x":140.5,"y":1.19},{"s":"g","x":141.5,"y":1.08},{"s":"g","x":142.5,"y":1.51},{"s":"g","x":143.5,"y":1.17},{"s":"g","x":144.5,"y":1.47},{"s":"g","x":145.5,"y":1.68},{"s":"g","x":146.5,"y":1.28},{"s":"g","x":109.3,"y":3.05},{"s":"g","x":144.4,"y":2.1},{"s":"g","x":146,"y":1.95},
{"s":"r","x":-17.25,"y":-1.79},{"s":"r","x":-16.25,"y":-1.40},{"s":"r","x":-15.25,"y":-1.52},{"s":"r","x":-14.25,"y":-1.11},{"s":"r","x":-13.25,"y":-1.47},{"s":"r","x":-12.25,"y":-1.20},{"s":"r","x":-11.25,"y":-0.95},{"s":"r","x":-10.25,"y":-1.26},{"s":"r","x":-9.25,"y":-0.55},{"s":"r","x":-8.25,"y":-0.61},{"s":"r","x":-7.25,"y":-0.19},{"s":"r","x":-6.25,"y":-0.28},{"s":"r","x":-5.25,"y":0.36},{"s":"r","x":-4.25,"y":0.36},{"s":"r","x":-3.25,"y":-0.03},{"s":"r","x":-2.25,"y":0.32},{"s":"r","x":-1.25,"y":0.57},{"s":"r","x":-0.25,"y":0.16},{"s":"r","x":0.75,"y":0.26},{"s":"r","x":1.75,"y":0.54},{"s":"r","x":2.75,"y":0.08},{"s":"r","x":3.75,"y":0.51},{"s":"r","x":4.75,"y":0.41},{"s":"r","x":5.75,"y":0.84},{"s":"r","x":6.75,"y":0.48},{"s":"r","x":7.75,"y":0.76},{"s":"r","x":8.75,"y":0.94},{"s":"r","x":9.75,"y":0.54},{"s":"r","x":10.75,"y":1.11},{"s":"r","x":11.75,"y":0.90},{"s":"r","x":12.75,"y":1.07},{"s":"r","x":13.75,"y":0.71},{"s":"r","x":14.75,"y":1.14},{"s":"r","x":15.75,"y":0.95},{"s":"r","x":16.75,"y":0.41},{"s":"r","x":17.75,"y":0.62},{"s":"r","x":18.75,"y":0.76},{"s":"r","x":19.75,"y":0.25},{"s":"r","x":20.75,"y":0.32},{"s":"r","x":21.75,"y":0.60},{"s":"r","x":22.75,"y":0.17},{"s":"r","x":23.75,"y":0.64},{"s":"r","x":24.75,"y":0.53},{"s":"r","x":25.75,"y":0.94},{"s":"r","x":26.75,"y":0.52},{"s":"r","x":27.75,"y":0.72},{"s":"r","x":28.75,"y":0.82},{"s":"r","x":29.75,"y":0.33},{"s":"r","x":30.75,"y":0.83},{"s":"r","x":31.75,"y":0.56},{"s":"r","x":32.75,"y":0.70},{"s":"r","x":33.75,"y":0.31},{"s":"r","x":34.75,"y":0.59},{"s":"r","x":35.75,"y":0.20},{"s":"r","x":-16.3,"y":-1.94},{"s":"r","x":12.5,"y":1.28},
{"s":"r","x":92.75,"y":-1.70},{"s":"r","x":93.75,"y":-1.18},{"s":"r","x":94.75,"y":-1.22},{"s":"r","x":95.75,"y":-0.73},{"s":"r","x":96.75,"y":-0.98},{"s":"r","x":97.75,"y":-0.58},{"s":"r","x":98.75,"y":-0.30},{"s":"r","x":99.75,"y":-0.61},{"s":"r","x":100.75,"y":0.00},{"s":"r","x":101.75,"y":-0.20},{"s":"r","x":102.75,"y":-0.02},{"s":"r","x":103.75,"y":-0.38},{"s":"r","x":104.75,"y":0.06},{"s":"r","x":105.75,"y":-0.10},{"s":"r","x":106.75,"y":-0.57},{"s":"r","x":107.75,"y":-0.28},{"s":"r","x":108.75,"y":-0.07},{"s":"r","x":109.75,"y":-0.50},{"s":"r","x":110.75,"y":-0.42},{"s":"r","x":111.75,"y":-0.16},{"s":"r","x":112.75,"y":-0.66},{"s":"r","x":113.75,"y":-0.27},{"s":"r","x":114.75,"y":-0.47},{"s":"r","x":115.75,"y":-0.15},{"s":"r","x":116.75,"y":-0.64},{"s":"r","x":117.75,"y":-0.49},{"s":"r","x":118.75,"y":-0.43},{"s":"r","x":119.75,"y":-0.95},{"s":"r","x":120.75,"y":-0.48},{"s":"r","x":121.75,"y":-0.78},{"s":"r","x":122.75,"y":-0.61},{"s":"r","x":123.75,"y":-0.94},{"s":"r","x":124.75,"y":-0.40},{"s":"r","x":125.75,"y":-0.44},{"s":"r","x":126.75,"y":-0.78},{"s":"r","x":127.75,"y":-0.37},{"s":"r","x":128.75,"y":-0.07},{"s":"r","x":129.75,"y":-0.42},{"s":"r","x":130.75,"y":-0.27},{"s":"r","x":131.75,"y":0.06},{"s":"r","x":132.75,"y":-0.39},{"s":"r","x":133.75,"y":0.03},{"s":"r","x":134.75,"y":-0.13},{"s":"r","x":135.75,"y":0.23},{"s":"r","x":136.75,"y":-0.19},{"s":"r","x":137.75,"y":0.02},{"s":"r","x":138.75,"y":0.15},{"s":"r","x":139.75,"y":-0.29},{"s":"r","x":140.75,"y":0.24},{"s":"r","x":141.75,"y":-0.01},{"s":"r","x":142.75,"y":0.18},{"s":"r","x":143.75,"y":-0.15},{"s":"r","x":144.75,"y":0.37},{"s":"r","x":145.75,"y":0.29},{"s":"r","x":146.75,"y":-0.11},{"s":"r","x":111.6,"y":-0.97},{"s":"r","x":134.7,"y":-0.62},{"s":"r","x":122.2,"y":-1.08},{"s":"r","x":123.6,"y":-1.1}
],
"test":[
{"s":"r","x":38.0,"y":-0.08},{"s":"r","x":38.75,"y":-0.20},{"s":"r","x":39.5,"y":0.10},{"s":"r","x":40.25,"y":0.31},{"s":"r","x":41.0,"y":0.05},{"s":"r","x":41.75,"y":0.35},{"s":"r","x":42.5,"y":0.74},{"s":"r","x":43.25,"y":0.56},{"s":"r","x":44.0,"y":1.03},{"s":"r","x":44.75,"y":1.08},{"s":"r","x":45.5,"y":1.53},{"s":"r","x":46.25,"y":1.43},{"s":"r","x":47.0,"y":1.77},{"s":"r","x":47.75,"y":2.20},{"s":"r","x":48.5,"y":2.16},{"s":"r","x":49.25,"y":2.77},{"s":"r","x":50.0,"y":2.81},{"s":"r","x":50.75,"y":3.20},{"s":"r","x":51.5,"y":3.17},{"s":"r","x":52.25,"y":3.72},{"s":"r","x":53.0,"y":3.87},{"s":"r","x":53.75,"y":3.68},{"s":"r","x":54.5,"y":3.83},{"s":"r","x":55.25,"y":3.85},{"s":"r","x":56.0,"y":3.40},{"s":"r","x":56.75,"y":3.51},{"s":"r","x":57.5,"y":3.69},{"s":"r","x":58.25,"y":3.26},{"s":"r","x":59.0,"y":3.43},{"s":"r","x":59.75,"y":3.10},{"s":"r","x":60.5,"y":3.21},{"s":"r","x":61.25,"y":2.81},{"s":"r","x":62.0,"y":2.92},{"s":"r","x":62.75,"y":3.12},{"s":"r","x":63.5,"y":2.86},{"s":"r","x":64.25,"y":3.23},{"s":"r","x":65.0,"y":3.01},{"s":"r","x":65.75,"y":2.95},{"s":"r","x":66.5,"y":2.54},{"s":"r","x":67.25,"y":2.77},{"s":"r","x":68.0,"y":2.62},{"s":"r","x":68.75,"y":2.28},{"s":"r","x":69.5,"y":2.45},{"s":"r","x":70.25,"y":2.59},{"s":"r","x":71.0,"y":2.25},{"s":"r","x":71.75,"y":2.28},{"s":"r","x":72.5,"y":2.41},{"s":"r","x":73.25,"y":1.98},{"s":"r","x":74.0,"y":2.18},{"s":"r","x":74.75,"y":1.97},{"s":"r","x":75.5,"y":2.16},{"s":"r","x":76.25,"y":1.78},{"s":"r","x":77.0,"y":1.82},{"s":"r","x":77.75,"y":1.69},{"s":"r","x":78.5,"y":1.18},{"s":"r","x":79.25,"y":1.37},{"s":"r","x":80.0,"y":0.96},{"s":"r","x":80.75,"y":0.87},{"s":"r","x":81.5,"y":0.37},{"s":"r","x":82.25,"y":0.45},{"s":"r","x":83.0,"y":0.12},{"s":"r","x":83.75,"y":-0.41},{"s":"r","x":84.5,"y":-0.50},{"s":"r","x":85.25,"y":-0.64},{"s":"r","x":86.0,"y":-1.20},{"s":"r","x":86.75,"y":-1.32},{"s":"r","x":87.5,"y":-1.32},{"s":"r","x":88.25,"y":-1.85},{"s":"r","x":89.0,"y":-1.72},{"s":"r","x":89.75,"y":-1.86},{"s":"r","x":90.5,"y":-1.52},{"s":"r","x":91.25,"y":-1.69},{"s":"r","x":92.0,"y":-1.43},{"s":"r","x":63.2,"y":2.55},{"s":"r","x":64.0,"y":2.45},{"s":"r","x":74.0,"y":1.55},{"s":"r","x":75.0,"y":1.4},{"s":"r","x":88.6,"y":-2.05},{"s":"r","x":89.3,"y":-2.15},{"s":"r","x":53.4,"y":3.95},{"s":"r","x":55.8,"y":3.9},
{"s":"g","x":38.4,"y":0.53},{"s":"g","x":39.15,"y":0.34},{"s":"g","x":39.9,"y":0.56},{"s":"g","x":40.65,"y":0.35},{"s":"g","x":41.4,"y":0.73},{"s":"g","x":42.15,"y":0.44},{"s":"g","x":42.9,"y":0.55},{"s":"g","x":43.65,"y":0.27},{"s":"g","x":44.4,"y":0.57},{"s":"g","x":45.15,"y":0.32},{"s":"g","x":45.9,"y":0.43},{"s":"g","x":46.65,"y":0.56},{"s":"g","x":47.4,"y":0.15},{"s":"g","x":48.15,"y":0.42},{"s":"g","x":48.9,"y":0.21},{"s":"g","x":49.65,"y":0.42},{"s":"g","x":50.4,"y":0.21},{"s":"g","x":51.15,"y":0.02},{"s":"g","x":51.9,"y":0.28},{"s":"g","x":52.65,"y":0.17},{"s":"g","x":53.4,"y":0.22},{"s":"g","x":54.15,"y":-0.08},{"s":"g","x":54.9,"y":0.06},{"s":"g","x":55.65,"y":-0.21},{"s":"g","x":56.4,"y":0.11},{"s":"g","x":57.15,"y":-0.22},{"s":"g","x":57.9,"y":-0.14},{"s":"g","x":58.65,"y":-0.50},{"s":"g","x":59.4,"y":-0.29},{"s":"g","x":60.15,"y":-0.66},{"s":"g","x":60.9,"y":-0.50},{"s":"g","x":61.65,"y":-1.05},{"s":"g","x":62.4,"y":-0.62},{"s":"g","x":63.15,"y":-1.18},{"s":"g","x":63.9,"y":-0.70},{"s":"g","x":64.65,"y":-1.12},{"s":"g","x":65.4,"y":-0.55},{"s":"g","x":66.15,"y":-0.95},{"s":"g","x":66.9,"y":-0.45},{"s":"g","x":67.65,"y":-0.62},{"s":"g","x":68.4,"y":-0.48},{"s":"g","x":69.15,"y":-0.70},{"s":"g","x":69.9,"y":-0.55},{"s":"g","x":70.65,"y":-0.42},{"s":"g","x":71.4,"y":-0.72},{"s":"g","x":72.15,"y":-0.55},{"s":"g","x":72.9,"y":-0.80},{"s":"g","x":73.65,"y":-0.62},{"s":"g","x":74.4,"y":-0.88},{"s":"g","x":75.15,"y":-0.60},{"s":"g","x":75.9,"y":-0.78},{"s":"g","x":76.65,"y":-0.55},{"s":"g","x":77.4,"y":-0.72},{"s":"g","x":78.15,"y":-0.38},{"s":"g","x":78.9,"y":-0.45},{"s":"g","x":79.65,"y":-0.15},{"s":"g","x":80.4,"y":-0.25},{"s":"g","x":81.15,"y":0.10},{"s":"g","x":81.9,"y":0.15},{"s":"g","x":82.65,"y":0.55},{"s":"g","x":83.4,"y":0.60},{"s":"g","x":84.15,"y":1.02},{"s":"g","x":84.9,"y":1.15},{"s":"g","x":85.65,"y":1.50},{"s":"g","x":86.4,"y":1.70},{"s":"g","x":87.15,"y":2.05},{"s":"g","x":87.9,"y":2.18},{"s":"g","x":88.65,"y":2.55},{"s":"g","x":89.4,"y":2.62},{"s":"g","x":90.15,"y":2.95},{"s":"g","x":90.9,"y":2.90},{"s":"g","x":91.65,"y":3.10},{"s":"g","x":61.3,"y":-1.25},{"s":"g","x":62.8,"y":-1.35},{"s":"g","x":65.7,"y":-1.30},{"s":"g","x":73.5,"y":-1.05},{"s":"g","x":76.3,"y":-1.0},{"s":"g","x":41.6,"y":0.9},{"s":"g","x":43.2,"y":0.85},{"s":"g","x":57.8,"y":0.55}
]
},
"vconcat":[
{
"title":"GPRN Prediction (Variational Gauss-Newton)",
"width":1090,"height":251,
"encoding":{"x":{"field":"x","type":"quantitative","title":null,"scale":{"domain":[-37,166.1],"nice":false,"zero":false},"axis":{"values":[-20,0,20,40,60,80,100,120,140,160],"labelPadding":16}}},
"layer":[
{"data":{"name":"vgn"},"mark":{"type":"area","color":"#0000ff","opacity":0.08,"interpolate":"monotone","clip":true},"encoding":{"y":{"field":"bl","type":"quantitative","title":null,"scale":{"domain":[-3.85,4.8],"nice":false,"zero":false},"axis":{"values":[-2,0,2,4],"labelAngle":-90,"labelAlign":"center","labelBaseline":"bottom","labelPadding":13}},"y2":{"field":"bh"}}},
{"data":{"name":"vgn"},"mark":{"type":"area","color":"#008000","opacity":0.06,"interpolate":"monotone","clip":true},"encoding":{"y":{"field":"gl","type":"quantitative","title":null},"y2":{"field":"gh"}}},
{"data":{"name":"vgn"},"mark":{"type":"area","color":"#ff0000","opacity":0.06,"interpolate":"monotone","clip":true},"encoding":{"y":{"field":"rl","type":"quantitative","title":null},"y2":{"field":"rh"}}},
{"data":{"name":"train"},"mark":{"type":"point","filled":true,"size":50,"opacity":1,"fillOpacity":0.2,"strokeOpacity":0.22,"strokeWidth":1,"clip":true},"encoding":{"y":{"field":"y","type":"quantitative","title":null},"color":{"field":"s","type":"nominal","scale":{"domain":["b","g","r"],"range":["#0000ff","#008000","#ff0000"]},"legend":null},"stroke":{"field":"s","type":"nominal","scale":{"domain":["b","g","r"],"range":["#0000ff","#008000","#ff0000"]},"legend":null},"shape":{"datum":"train data","type":"nominal","scale":{"domain":["train data","test data"],"range":["circle","M-1,-1L1,1M1,-1L-1,1"]},"legend":{"title":null,"orient":"none","legendX":951,"legendY":13,"fillColor":"#ffffff","strokeColor":"#cccccc","cornerRadius":3,"padding":5,"labelFont":"DejaVu Serif","labelFontSize":16,"labelColor":"#000000","labelOffset":16,"symbolSize":50,"rowPadding":2,"symbolOpacity":1,"symbolStrokeWidth":1.5,"symbolFillColor":{"expr":"datum.value === 'train data' ? '#c8c8c8' : 'transparent'"},"symbolStrokeColor":{"expr":"datum.value === 'train data' ? '#aaaaaa' : '#000000'"}}}}},
{"data":{"name":"test"},"mark":{"type":"point","filled":false,"size":42,"opacity":1,"strokeWidth":1.4,"clip":true},"encoding":{"y":{"field":"y","type":"quantitative","title":null},"color":{"field":"s","type":"nominal","scale":{"domain":["b","g","r"],"range":["#0000ff","#008000","#ff0000"]},"legend":null},"shape":{"datum":"test data","type":"nominal","scale":{"domain":["train data","test data"],"range":["circle","M-1,-1L1,1M1,-1L-1,1"]},"legend":{"title":null,"orient":"none","legendX":951,"legendY":13,"fillColor":"#ffffff","strokeColor":"#cccccc","cornerRadius":3,"padding":5,"labelFont":"DejaVu Serif","labelFontSize":16,"labelColor":"#000000","labelOffset":16,"symbolSize":50,"rowPadding":2,"symbolOpacity":1,"symbolStrokeWidth":1.5,"symbolFillColor":{"expr":"datum.value === 'train data' ? '#c8c8c8' : 'transparent'"},"symbolStrokeColor":{"expr":"datum.value === 'train data' ? '#aaaaaa' : '#000000'"}}}}},
{"data":{"name":"vgn"},"mark":{"type":"line","color":"#0000ff","strokeWidth":1.5,"interpolate":"monotone","clip":true},"encoding":{"y":{"field":"b","type":"quantitative","title":null}}},
{"data":{"name":"vgn"},"mark":{"type":"line","color":"#008000","strokeWidth":1.5,"interpolate":"monotone","clip":true},"encoding":{"y":{"field":"g","type":"quantitative","title":null}}},
{"data":{"name":"vgn"},"mark":{"type":"line","color":"#ff0000","strokeWidth":1.5,"interpolate":"monotone","clip":true},"encoding":{"y":{"field":"r","type":"quantitative","title":null}}}
]
},
{
"title":"GPRN Prediction (Heuristic VI)",
"width":1090,"height":251,
"encoding":{"x":{"field":"x","type":"quantitative","title":"X","scale":{"domain":[-37,166.1],"nice":false,"zero":false},"axis":{"values":[-20,0,20,40,60,80,100,120,140,160],"labelPadding":16,"titleFontStyle":"italic","titleFontWeight":"normal","titleFontSize":15,"titlePadding":0}}},
"layer":[
{"data":{"name":"hvi"},"mark":{"type":"area","color":"#0000ff","opacity":0.08,"interpolate":"monotone","clip":true},"encoding":{"y":{"field":"bl","type":"quantitative","title":null,"scale":{"domain":[-3.9,4.76],"nice":false,"zero":false},"axis":{"values":[-2,0,2,4],"labelAngle":-90,"labelAlign":"center","labelBaseline":"bottom","labelPadding":13}},"y2":{"field":"bh"}}},
{"data":{"name":"hvi"},"mark":{"type":"area","color":"#008000","opacity":0.06,"interpolate":"monotone","clip":true},"encoding":{"y":{"field":"gl","type":"quantitative","title":null},"y2":{"field":"gh"}}},
{"data":{"name":"hvi"},"mark":{"type":"area","color":"#ff0000","opacity":0.06,"interpolate":"monotone","clip":true},"encoding":{"y":{"field":"rl","type":"quantitative","title":null},"y2":{"field":"rh"}}},
{"data":{"name":"train"},"mark":{"type":"point","filled":true,"size":50,"opacity":1,"fillOpacity":0.2,"strokeOpacity":0.22,"strokeWidth":1,"clip":true},"encoding":{"y":{"field":"y","type":"quantitative","title":null},"color":{"field":"s","type":"nominal","scale":{"domain":["b","g","r"],"range":["#0000ff","#008000","#ff0000"]},"legend":null},"stroke":{"field":"s","type":"nominal","scale":{"domain":["b","g","r"],"range":["#0000ff","#008000","#ff0000"]},"legend":null},"shape":{"datum":"train data","type":"nominal","scale":{"domain":["train data","test data"],"range":["circle","M-1,-1L1,1M1,-1L-1,1"]},"legend":{"title":null,"orient":"none","legendX":951,"legendY":13,"fillColor":"#ffffff","strokeColor":"#cccccc","cornerRadius":3,"padding":5,"labelFont":"DejaVu Serif","labelFontSize":16,"labelColor":"#000000","labelOffset":16,"symbolSize":50,"rowPadding":2,"symbolOpacity":1,"symbolStrokeWidth":1.5,"symbolFillColor":{"expr":"datum.value === 'train data' ? '#c8c8c8' : 'transparent'"},"symbolStrokeColor":{"expr":"datum.value === 'train data' ? '#aaaaaa' : '#000000'"}}}}},
{"data":{"name":"test"},"mark":{"type":"point","filled":false,"size":42,"opacity":1,"strokeWidth":1.4,"clip":true},"encoding":{"y":{"field":"y","type":"quantitative","title":null},"color":{"field":"s","type":"nominal","scale":{"domain":["b","g","r"],"range":["#0000ff","#008000","#ff0000"]},"legend":null},"shape":{"datum":"test data","type":"nominal","scale":{"domain":["train data","test data"],"range":["circle","M-1,-1L1,1M1,-1L-1,1"]},"legend":{"title":null,"orient":"none","legendX":951,"legendY":13,"fillColor":"#ffffff","strokeColor":"#cccccc","cornerRadius":3,"padding":5,"labelFont":"DejaVu Serif","labelFontSize":16,"labelColor":"#000000","labelOffset":16,"symbolSize":50,"rowPadding":2,"symbolOpacity":1,"symbolStrokeWidth":1.5,"symbolFillColor":{"expr":"datum.value === 'train data' ? '#c8c8c8' : 'transparent'"},"symbolStrokeColor":{"expr":"datum.value === 'train data' ? '#aaaaaa' : '#000000'"}}}}},
{"data":{"name":"hvi"},"mark":{"type":"line","color":"#0000ff","strokeWidth":1.5,"interpolate":"monotone","clip":true},"encoding":{"y":{"field":"b","type":"quantitative","title":null}}},
{"data":{"name":"hvi"},"mark":{"type":"line","color":"#008000","strokeWidth":1.5,"interpolate":"monotone","clip":true},"encoding":{"y":{"field":"g","type":"quantitative","title":null}}},
{"data":{"name":"hvi"},"mark":{"type":"line","color":"#ff0000","strokeWidth":1.5,"interpolate":"monotone","clip":true},"encoding":{"y":{"field":"r","type":"quantitative","title":null}}}
]
}
]
}
